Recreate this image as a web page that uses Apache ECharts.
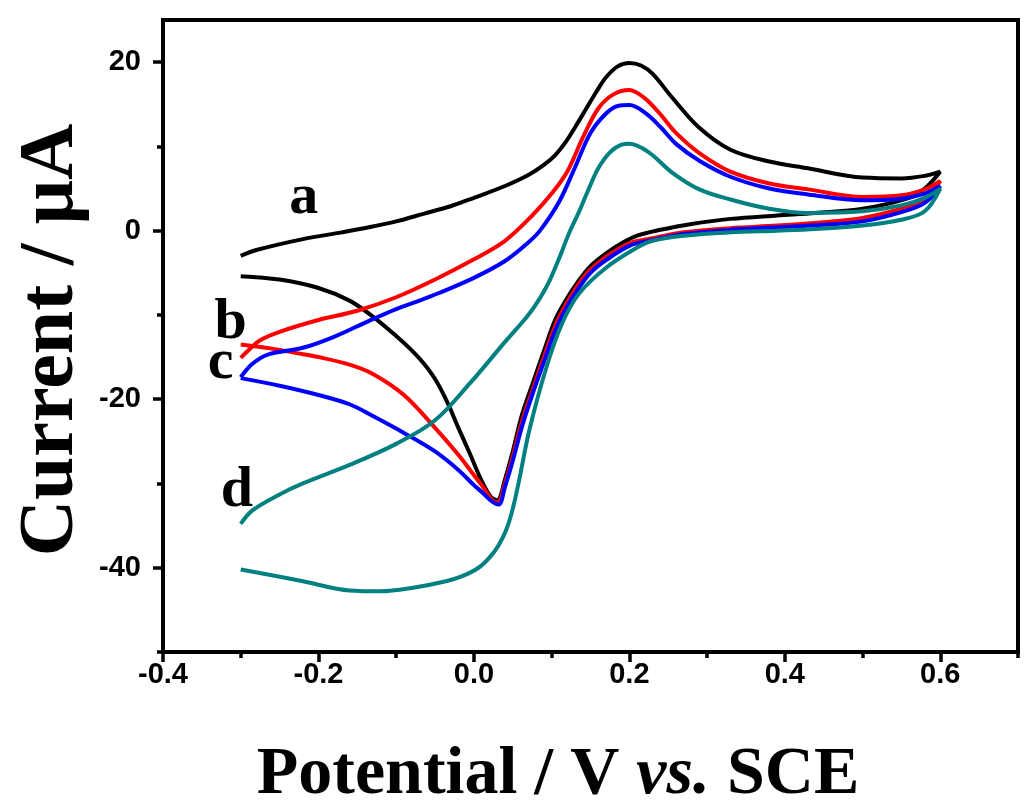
<!DOCTYPE html>
<html>
<head>
<meta charset="utf-8">
<script src="https://cdn.jsdelivr.net/npm/echarts@6/dist/echarts.min.js"></script>
<style>html,body{margin:0;padding:0;background:#fff}#c{width:1024px;height:809px}</style>
</head>
<body>
<div id="c"></div>
<script>
// Potential (V vs. SCE), current (µA) pairs along each scan
const curveA = [[-0.3,-3.0],[-0.28,-2.3],[-0.22,-1.0],[-0.17,-0.2],[-0.135,0.4],[-0.1,1.1],[-0.065,2.0],[-0.03,2.9],[0.0,3.9],[0.04,5.3],[0.07,6.6],[0.09,7.8],[0.105,9.0],[0.118,10.5],[0.131,12.4],[0.144,14.4],[0.157,16.4],[0.17,18.2],[0.185,19.5],[0.2,19.9],[0.215,19.6],[0.23,18.6],[0.255,15.8],[0.29,12.2],[0.33,9.6],[0.38,8.2],[0.43,7.4],[0.5,6.3],[0.55,6.2],[0.58,6.5],[0.6,7.0],
  [0.58,5.0],[0.56,3.9],[0.5,2.6],[0.44,2.1],[0.39,1.8],[0.33,1.4],[0.28,0.8],[0.24,0.1],[0.21,-0.6],[0.19,-1.5],[0.17,-2.7],[0.15,-4.2],[0.135,-5.9],[0.12,-8.0],[0.105,-10.5],[0.09,-14.3],[0.075,-18.3],[0.062,-21.8],[0.05,-26.2],[0.04,-29.5],[0.03,-32.0],[0.022,-31.6],[0.01,-29.7],[-0.005,-26.5],[-0.02,-23.4],[-0.035,-20.2],[-0.05,-17.6],[-0.065,-15.7],[-0.08,-14.2],[-0.1,-12.5],[-0.13,-10.2],[-0.16,-8.3],[-0.2,-6.8],[-0.25,-5.8],[-0.3,-5.4]];
const curveB = [[-0.3,-15.1],[-0.29,-14.2],[-0.275,-13.0],[-0.25,-12.0],[-0.2,-10.6],[-0.15,-9.5],[-0.1,-7.9],[-0.05,-5.8],[0.0,-3.4],[0.04,-1.2],[0.075,1.8],[0.1,4.4],[0.12,7.0],[0.14,11.0],[0.16,14.5],[0.18,16.2],[0.2,16.7],[0.22,15.7],[0.24,13.8],[0.26,11.6],[0.29,9.2],[0.33,7.0],[0.38,5.6],[0.43,4.9],[0.5,4.0],[0.55,4.2],[0.58,4.9],[0.6,5.9],
  [0.58,3.6],[0.55,2.6],[0.5,1.5],[0.45,1.0],[0.39,0.6],[0.33,0.3],[0.27,-0.2],[0.23,-0.9],[0.2,-1.5],[0.17,-3.1],[0.15,-4.6],[0.135,-6.3],[0.12,-8.5],[0.105,-11.2],[0.09,-15.0],[0.075,-19.0],[0.062,-22.6],[0.05,-26.8],[0.04,-30.0],[0.03,-32.3],[0.022,-31.8],[0.01,-30.2],[-0.005,-28.4],[-0.02,-26.6],[-0.05,-23.4],[-0.09,-19.5],[-0.13,-17.0],[-0.16,-15.9],[-0.2,-15.0],[-0.23,-14.5],[-0.26,-14.0],[-0.3,-13.5]];
const curveC = [[-0.3,-17.4],[-0.285,-15.8],[-0.265,-14.7],[-0.22,-13.9],[-0.18,-12.6],[-0.135,-10.7],[-0.1,-9.3],[-0.07,-8.3],[-0.045,-7.4],[0.0,-5.6],[0.04,-3.6],[0.07,-1.4],[0.085,0.0],[0.11,3.5],[0.13,7.5],[0.15,11.6],[0.17,13.9],[0.185,14.8],[0.2,14.9],[0.22,14.0],[0.24,12.3],[0.26,10.3],[0.29,8.3],[0.33,6.4],[0.38,5.0],[0.43,4.3],[0.5,3.6],[0.55,3.8],[0.58,4.4],[0.6,5.3],
  [0.58,3.3],[0.55,2.2],[0.5,1.1],[0.45,0.7],[0.39,0.4],[0.33,0.1],[0.27,-0.4],[0.23,-1.1],[0.2,-1.8],[0.17,-3.5],[0.15,-5.0],[0.135,-6.8],[0.12,-9.0],[0.105,-11.8],[0.09,-15.6],[0.075,-19.5],[0.062,-23.2],[0.05,-27.3],[0.04,-30.4],[0.032,-32.5],[0.024,-32.2],[0.01,-31.0],[0.0,-30.2],[-0.02,-28.4],[-0.05,-26.2],[-0.09,-24.0],[-0.13,-22.0],[-0.16,-20.6],[-0.2,-19.5],[-0.25,-18.4],[-0.3,-17.5]];
const curveD = [[-0.3,-34.8],[-0.285,-33.2],[-0.25,-31.3],[-0.22,-30.0],[-0.16,-27.8],[-0.1,-25.3],[-0.05,-22.5],[-0.005,-18.1],[0.04,-13.2],[0.07,-10.0],[0.085,-8.0],[0.098,-5.8],[0.11,-3.2],[0.122,-0.4],[0.135,2.2],[0.147,4.8],[0.16,7.4],[0.175,9.3],[0.19,10.2],[0.2,10.3],[0.225,9.3],[0.255,6.9],[0.29,4.9],[0.33,3.7],[0.38,2.6],[0.43,2.1],[0.5,2.3],[0.55,3.0],[0.58,3.9],[0.6,5.0],
  [0.58,2.3],[0.55,1.3],[0.5,0.6],[0.44,0.2],[0.39,0.0],[0.33,-0.2],[0.27,-0.6],[0.23,-1.2],[0.21,-2.0],[0.17,-4.4],[0.135,-7.5],[0.113,-11.1],[0.093,-16.3],[0.071,-23.8],[0.058,-29.7],[0.05,-33.0],[0.042,-35.4],[0.032,-37.3],[0.02,-38.8],[0.006,-40.0],[-0.015,-41.0],[-0.036,-41.6],[-0.08,-42.4],[-0.12,-42.8],[-0.16,-42.7],[-0.22,-41.6],[-0.3,-40.2]];
const curveNames = ['a','b','c','d'];
const curveColors = ['#000000','#ff0000','#0000ff','#008080'];
// label anchor positions in data units: [potential, current]
const curveLabelPos = [[-0.219,3.9],[-0.313,-10.9],[-0.326,-15.7],[-0.305,-30.9]];
const xMajorTicks = [-0.4,-0.2,0.0,0.2,0.4,0.6];
const xMinorTicks = [-0.3,-0.1,0.1,0.3,0.5,0.7];
const yMajorTicks = [-40,-20,0,20];
const yMinorTicks = [-50,-30,-10,10];

const serifFont = "'Liberation Serif','Times New Roman',serif";
const sansFont = "'Liberation Sans',Arial,sans-serif";
const curves = [curveA, curveB, curveC, curveD];

const chart = echarts.init(document.getElementById('c'), null, {renderer:'canvas'});
const tickLine = {color:'#000', width:3.5};
const option = {
  animation:false,
  backgroundColor:'#fff',
  grid:{left:163, top:20, width:855, height:632, show:true, borderColor:'#000', borderWidth:4, backgroundColor:'transparent'},
  xAxis:[
    {type:'value', min:-0.4, max:0.7, position:'bottom',
     axisLine:{show:true, onZero:false, lineStyle:{color:'#000', width:4}},
     axisTick:{show:true, customValues:xMajorTicks, length:10, lineStyle:tickLine},
     axisLabel:{customValues:xMajorTicks, formatter:v=>v.toFixed(1), fontFamily:sansFont, fontWeight:'bold', fontSize:29, color:'#000', margin:8},
     splitLine:{show:false}},
    {type:'value', min:-0.4, max:0.7, position:'bottom',
     axisLine:{show:false, onZero:false},
     axisTick:{show:true, customValues:xMinorTicks, length:6, lineStyle:tickLine},
     axisLabel:{show:false}, splitLine:{show:false}}
  ],
  yAxis:[
    {type:'value', min:-50, max:25, position:'left',
     axisLine:{show:true, onZero:false, lineStyle:{color:'#000', width:4}},
     axisTick:{show:true, customValues:yMajorTicks, length:10, lineStyle:tickLine},
     axisLabel:{customValues:yMajorTicks, fontFamily:sansFont, fontWeight:'bold', fontSize:29, color:'#000', margin:22},
     splitLine:{show:false}},
    {type:'value', min:-50, max:25, position:'left',
     axisLine:{show:false, onZero:false},
     axisTick:{show:true, customValues:yMinorTicks, length:6, lineStyle:tickLine},
     axisLabel:{show:false}, splitLine:{show:false}}
  ],
  series: curves.map((d,i)=>({
    type:'line', name:curveNames[i], data:d, xAxisIndex:0, yAxisIndex:0,
    showSymbol:false, smooth:0.35, lineStyle:{color:curveColors[i], width:4}, itemStyle:{color:curveColors[i]}, z:2+i
  })).concat([{
    type:'scatter', xAxisIndex:0, yAxisIndex:0, symbolSize:0, z:10,
    itemStyle:{opacity:1},
    data: curveLabelPos.map((p,i)=>[p[0],p[1],curveNames[i]]),
    label:{show:true, position:'inside', formatter:p=>p.value[2], fontFamily:serifFont, fontWeight:'bold', fontSize:58, color:'#000', opacity:1}
  }]),
  graphic:[
    {type:'text', x:558, y:775, style:{text:'{n|Potential / V }{i|vs.}{n| SCE}', align:'center', verticalAlign:'middle',
      rich:{n:{fontFamily:serifFont, fontWeight:'bold', fontSize:68, fill:'#000'}, i:{fontFamily:serifFont, fontWeight:'bold', fontStyle:'italic', fontSize:68, fill:'#000'}}}},
    {type:'text', x:52, y:340, rotation:Math.PI/2, style:{text:'Current / μA', align:'center', verticalAlign:'middle', fontFamily:serifFont, fontWeight:'bold', fontSize:78, fill:'#000'}}
  ]
};
chart.setOption(option);
</script>
</body>
</html>
